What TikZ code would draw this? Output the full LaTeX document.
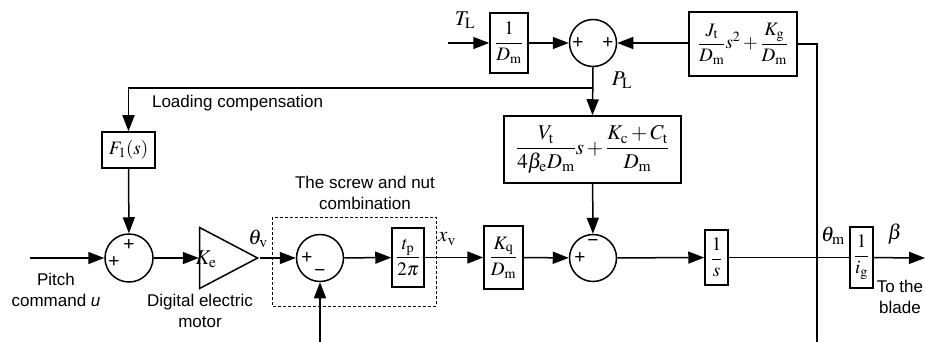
\documentclass[tikz,border=0pt]{standalone}
\usepackage{amsmath}
\usepackage{mathptmx}
\usepackage[no-math]{fontspec}
\setmainfont{Liberation Sans}
\usetikzlibrary{positioning,arrows.meta,shapes.geometric}

\newcommand{\rmsub}[1]{_{\mathrm{#1}}}

\begin{document}
\begin{tikzpicture}[x=1pt, y=-1pt, line width=1.5pt,
  every node/.style={align=center},
  blk/.style={draw, fill=white, inner sep=0pt, font=\fontsize{19}{22}\selectfont},
  sumnode/.style={draw, circle, minimum size=47pt, inner sep=0pt},
  sig/.style={-{Triangle[length=16pt,width=12pt]}},
  txt/.style={font=\fontsize{17}{21}\selectfont},
  mlab/.style={font=\fontsize{21}{23}\selectfont},
  sgn/.style={font=\fontsize{19}{19}\selectfont, inner sep=0pt}]
  \useasboundingbox (0,0) rectangle (925,342);

  % top row
  \coordinate (tlin) at (448,43);
  \node[blk, minimum width=38pt, minimum height=60pt] (d1) at (509,43) {$\dfrac{1}{D\rmsub{m}}$};
  \node[sumnode] (stop) at (593,43) {};
  \node[blk, minimum width=108pt, minimum height=64pt] (jt) at (743,44) {$\dfrac{J\rmsub{t}}{D\rmsub{m}}s^{2}+\dfrac{K\rmsub{g}}{D\rmsub{m}}$};
  \node[mlab] (tl) at (465,20) {$T\rmsub{L}$};
  \node[sgn] at ([shift={(-15,0)}]stop.center) {+};
  \node[sgn] at ([shift={(15,0)}]stop.center) {+};

  % load pressure branch
  \coordinate (pl) at (593,88);
  \node[mlab] (pllab) at (622,80) {$P\rmsub{L}$};
  \node[blk, minimum width=177pt, minimum height=67pt, font=\fontsize{21}{24}\selectfont] (big) at (592.5,149.5) {$\dfrac{V\rmsub{t}}{4\beta\rmsub{e}D\rmsub{m}}s+\dfrac{K\rmsub{c}+C\rmsub{t}}{D\rmsub{m}}$};
  \node[blk, minimum width=53pt, minimum height=36pt] (f1) at (128.5,150) {$F_{1}(s)$};
  \node[txt, anchor=west] (lc) at (148,103) {Loading compensation};

  % main row
  \coordinate (uin) at (30,258);
  \node[sumnode, minimum size=48pt] (s1) at (129,258) {};
  \node[draw, isosceles triangle, isosceles triangle stretches, minimum width=61pt, minimum height=58pt, inner sep=0pt] (amp) at (218,258) {};
  \node[mlab] at (206,259) {$K\rmsub{e}$};
  \node[sumnode] (s2) at (320,258) {};
  \node[blk, minimum width=32pt, minimum height=59pt] (tp) at (408,257.5) {$\dfrac{t\rmsub{p}}{2\pi}$};
  \node[blk, minimum width=39pt, minimum height=63pt] (kq) at (503.5,257.5) {$\dfrac{K\rmsub{q}}{D\rmsub{m}}$};
  \node[sumnode] (s3) at (593,258) {};
  \node[blk, minimum width=23pt, minimum height=55pt] (integ) at (716.5,257.5) {$\dfrac{1}{s}$};
  \node[blk, minimum width=23pt, minimum height=61pt] (ig) at (861.5,257.5) {$\dfrac{1}{i\rmsub{g}}$};
  \coordinate (out) at (925,258);
  \coordinate (fbm) at (817,342);
  \coordinate (fbv) at (320,342);

  \node[sgn] at ([shift={(-15,4)}]s1.center) {+};
  \node[sgn] at ([shift={(0,-13)}]s1.center) {+};
  \node[sgn] at ([shift={(-13,0)}]s2.center) {+};
  \node[sgn] at ([shift={(0,15)}]s2.center) {−};
  \node[sgn] at ([shift={(-13,0)}]s3.center) {+};
  \node[sgn] at ([shift={(0,-15)}]s3.center) {−};

  % labels
  \node[txt] (pitch) at (56,290) {Pitch\\command \textit{u}};
  \node[txt] (motor) at (200,311) {Digital electric\\motor};
  \node[txt] (screw) at (365,193) {The screw and nut\\combination};
  \node[mlab] (thv) at (258,239) {$\theta\rmsub{v}$};
  \node[mlab] (xv) at (447,239) {$x\rmsub{v}$};
  \node[mlab] (thm) at (833,236) {$\theta\rmsub{m}$};
  \node[mlab] (beta) at (895,234) {$\beta$};
  \node[txt, anchor=west, inner sep=0pt] (blade) at (876,297) {To the\\blade};
  \draw[line width=1pt, dash pattern=on 3pt off 2pt] (272,217) rectangle (436,306);

  % connectors
  \draw[sig] (tlin) -- (d1);
  \draw[sig] (d1) -- (stop);
  \draw[sig] (jt.west |- stop) -- (stop.east);
  \draw (jt.east) -| (fbm);
  \draw[sig] (stop.south) -- (big.north);
  \draw[sig] (pl) -| (f1.north);
  \draw[sig] (f1) -- (s1);
  \draw[sig] (uin) -- (s1);
  \draw[sig] (s1) -- (amp);
  \draw[sig] (amp.apex) -- (s2);
  \draw[sig] (s2) -- (tp);
  \draw[sig] (tp) -- (kq);
  \draw[sig] (kq) -- (s3);
  \draw[sig] (big) -- (s3);
  \draw[sig] (s3) -- (integ);
  \draw (integ) -- (ig);
  \draw[sig] (ig) -- (out);
  \draw[sig] (fbv) -- (s2.south);
\end{tikzpicture}
\end{document}
